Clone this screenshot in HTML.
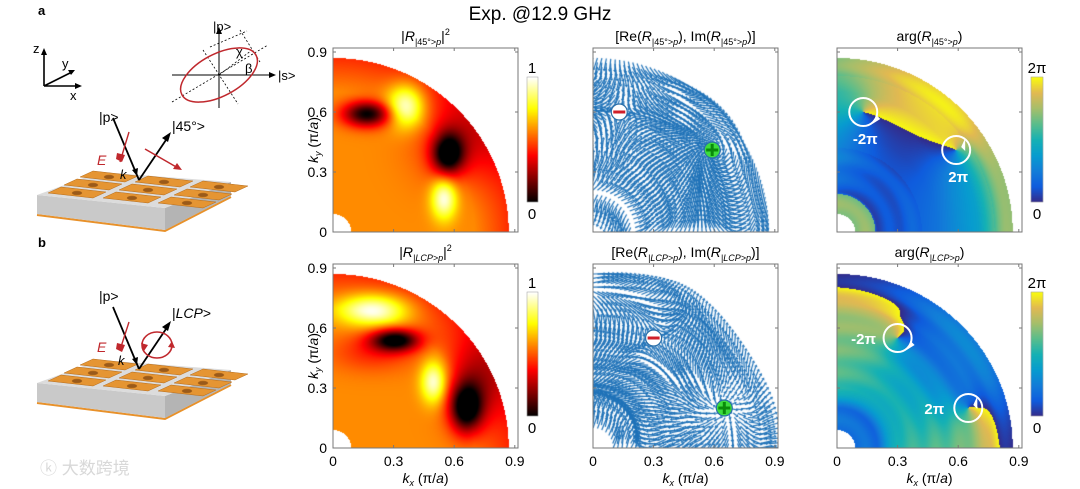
<!DOCTYPE html>
<html><head><meta charset="utf-8">
<style>
html,body{margin:0;padding:0;background:#fff;}
#wrap{position:relative;width:1080px;height:489px;overflow:hidden;font-family:"Liberation Sans","Noto Sans CJK SC",sans-serif;}
canvas,svg{position:absolute;left:0;top:0;}
</style></head>
<body>
<div id="wrap">
<canvas id="cv" width="1080" height="489"></canvas>
<svg id="sv" width="1080" height="489" font-family="Liberation Sans, sans-serif">
  <text x="540" y="20" font-size="19" text-anchor="middle">Exp. @12.9 GHz</text>
  <g>
    <text x="38" y="15" font-size="13" font-weight="bold">a</text>
    <g stroke="#000" stroke-width="1.6" fill="none">
      <path d="M44 86 V52 M44 86 H78 M44 86 L72 72"/>
    </g>
    <path d="M44 48 l-3 7 h6z M82 86 l-7 -3 v6z M75 70 l-7 0 l3 5z" fill="#000"/>
    <text x="33" y="53" font-size="13">z</text><text x="62" y="68" font-size="13">y</text><text x="70" y="100" font-size="13">x</text>
    <g>
      <line x1="172" y1="75" x2="272" y2="75" stroke="#000" stroke-width="1"/>
      <path d="M276 75 l-7 -3 v6z" fill="#000"/>
      <line x1="219" y1="108" x2="219" y2="32" stroke="#000" stroke-width="1"/>
      <path d="M219 27 l-3 7 h6z" fill="#000"/>
      <g stroke="#000" stroke-width="0.8" stroke-dasharray="2,2" fill="none">
        <line x1="172" y1="102" x2="268" y2="45"/><line x1="203" y1="50" x2="238" y2="104"/>
        <line x1="240" y1="30" x2="260" y2="62"/><line x1="210" y1="47" x2="247" y2="31"/>
        <line x1="219" y1="75" x2="252" y2="50"/>
      </g>
      <ellipse cx="219" cy="75" rx="42" ry="21" transform="rotate(-28 219 75)" fill="none" stroke="#c0282d" stroke-width="1.5"/>
      <text x="213" y="31" font-size="13">|p&gt;</text>
      <text x="278" y="80" font-size="13">|s&gt;</text>
      <text x="236" y="56" font-size="13">χ</text><text x="245" y="73" font-size="13">β</text>
    </g>
    <g>
      <path d="M37 215 L165 231 L231 197" stroke="#e8912a" stroke-width="2" fill="none"/>
      <path d="M37 195 L165 208 L165 230 L37 214Z" fill="#c9c9c9"/>
      <path d="M165 208 L231 182 L231 196 L165 230Z" fill="#b4b4b4"/>
      <path d="M37 195 L100 172 L231 182 L165 208Z" fill="#dcdcdc"/>
      <g id="tilesA" fill="#e59533" stroke="#b56b1a" stroke-width="0.5"></g>
    </g>
    <g stroke="#000" stroke-width="1.8">
      <line x1="113" y1="118" x2="139" y2="180"/><line x1="139" y1="180" x2="168" y2="137"/>
    </g>
    <path d="M171 132 l-9 6 l6 4z M137 176 l-5 -6 l6 -2z" fill="#000"/>
    <path d="M145 149 L178 168" stroke="#c0282d" stroke-width="1.5"/><path d="M182 170 l-9 -1 l4 -6z" fill="#c0282d"/>
    <path d="M129 132 L120 162" stroke="#c0282d" stroke-width="1.4"/><path d="M117 153 l8 2 l-3 7 l-6 -3z" fill="#c0282d"/>
    <text x="99" y="122" font-size="14">|p&gt;</text>
    <text x="172" y="131" font-size="14">|45°&gt;</text>
    <text x="97" y="165" font-size="14" font-style="italic" fill="#c0282d">E</text>
    <text x="120" y="179" font-size="13" font-style="italic">k</text>
  </g>
  <g>
    <text x="38" y="247" font-size="13" font-weight="bold">b</text>
    <g transform="translate(0,188)">
      <path d="M37 215 L165 231 L231 197" stroke="#e8912a" stroke-width="2" fill="none"/>
      <path d="M37 195 L165 208 L165 230 L37 214Z" fill="#c9c9c9"/>
      <path d="M165 208 L231 182 L231 196 L165 230Z" fill="#b4b4b4"/>
      <path d="M37 195 L100 172 L231 182 L165 208Z" fill="#dcdcdc"/>
      <g id="tilesB" fill="#e59533" stroke="#b56b1a" stroke-width="0.5"></g>
    </g>
    <g stroke="#000" stroke-width="1.8">
      <line x1="113" y1="307" x2="139" y2="369"/><line x1="139" y1="369" x2="168" y2="326"/>
    </g>
    <path d="M171 321 l-9 6 l6 4z M137 365 l-5 -6 l6 -2z" fill="#000"/>
    <ellipse cx="157" cy="345" rx="15" ry="13" fill="none" stroke="#c0282d" stroke-width="1.6"/>
    <path d="M144 351 l-3 -8 l7 2z M172 341 l3 7 l-7 -1z" fill="#c0282d"/>
    <path d="M129 322 L120 350" stroke="#c0282d" stroke-width="1.4"/><path d="M117 343 l8 2 l-3 7 l-6 -3z" fill="#c0282d"/>
    <text x="99" y="301" font-size="14">|p&gt;</text>
    <text x="172" y="318" font-size="14">|<tspan font-style="italic">LCP</tspan>&gt;</text>
    <text x="97" y="352" font-size="14" font-style="italic" fill="#c0282d">E</text>
    <text x="118" y="365" font-size="13" font-style="italic">k</text>
  </g>
  <text x="40" y="474" font-size="17" fill="#d8d8d8">ⓚ 大数跨境</text>
  <g id="axes"></g>
</svg>
</div>
<script>
// ---- data ----
const tickValues = [0, 0.3, 0.6, 0.9];
const tickLabels = ["0", "0.3", "0.6", "0.9"];
const discRadius = 0.87;
const holeRadius = 0.09;
// intensity blobs: [kx, ky, amplitude, sigmaX, sigmaY]
const blobsTop = [[0.17,0.59,-0.58,0.085,0.045],[0.36,0.63,0.42,0.065,0.075],[0.57,0.39,-0.6,0.055,0.075],[0.55,0.17,0.42,0.045,0.075],[0.62,0.45,-0.18,0.15,0.15]];
const blobsBot = [[0.2,0.69,0.42,0.12,0.055],[0.31,0.54,-0.6,0.085,0.04],[0.2,0.48,-0.15,0.15,0.07],[0.5,0.33,0.42,0.045,0.075],[0.66,0.2,-0.6,0.055,0.085],[0.7,0.32,-0.25,0.11,0.15]];
const heatBase = 0.58;
// phase vortices: [kx, ky, charge]
const vortTop = [[0.13,0.6,-1],[0.59,0.41,1]];
const vortBot = [[0.30,0.55,-1],[0.65,0.2,1]];
const radialR = [0,0.1,0.2,0.3,0.4,0.5,0.6,0.7,0.8,0.9];
// background phase (fraction of 2π) along the kx axis and along the ky axis
const phaseTopX = [0.85,0.85,0.22,0.26,0.3,0.34,0.42,0.48,0.72,0.82];
const phaseTopY = [0.85,0.85,0.28,0.38,0.43,0.48,0.54,0.52,0.6,0.65];
const phaseBotX = [0.35,0.35,0.35,0.7,0.75,0.77,0.77,0.8,1.0,1.03];
const phaseBotY = [0.35,0.35,0.35,0.7,0.75,0.77,0.77,0.8,1.0,1.03];
const colX = [333, 593, 837];
const rowBottom = [232, 448];
const boxW = 185, boxH = 184, SX = 202, SY = 200;

function tiles(id){
  const g=document.getElementById(id);
  for(let i=0;i<3;i++)for(let j=0;j<3;j++){
    const bx=48+i*55+j*16, by=193-j*8+i*5;
    const p=document.createElementNS("http://www.w3.org/2000/svg","path");
    p.setAttribute('d',`M${bx} ${by} l45 5 l13 -6 l-45 -5z`);
    g.appendChild(p);
    const h=document.createElementNS("http://www.w3.org/2000/svg","ellipse");
    h.setAttribute('cx',bx+29);h.setAttribute('cy',by);h.setAttribute('rx',5);h.setAttribute('ry',2);
    h.setAttribute('fill','#9a5a1a');g.appendChild(h);
  }
}
tiles('tilesA');tiles('tilesB');

function heat(kx,ky,blobs){
  let v=heatBase;
  const r=Math.hypot(kx,ky);
  if(r>0.7) v-=0.14*(r-0.7)/0.17;
  for(const b of blobs){v+=b[2]*Math.exp(-((kx-b[0])**2/(2*b[3]**2)+(ky-b[1])**2/(2*b[4]**2)));}
  return Math.max(0,Math.min(1,v));
}
function radial(r,arr,top){
  if(top && r<0.19) return arr[0];
  const i=Math.min(radialR.length-2,Math.floor(r/0.1));
  const t=(r-radialR[i])/0.1;
  return arr[i]+(arr[i+1]-arr[i])*t;
}
function phase(kx,ky,vort,top){
  const r=Math.hypot(kx,ky), w=Math.atan2(ky,kx)/(Math.PI/2);
  const ax=top?phaseTopX:phaseBotX, ay=top?phaseTopY:phaseBotY;
  const ripple=(top && r>0.42 && r<0.78)?0:0.03;
  let p=(1-w)*radial(r,ax,top)+w*radial(r,ay,top)+ripple*Math.sin(r*55);
  const tA=Math.atan2(ky-vort[0][1],kx-vort[0][0]);
  const tB=Math.atan2(ky-vort[1][1],kx-vort[1][0]);
  p+=(vort[1][2]*tB+vort[0][2]*tA)/(2*Math.PI);
  return p-Math.floor(p);
}
function hot(t){return [Math.min(1,t/0.375),Math.max(0,Math.min(1,(t-0.375)/0.375)),Math.max(0,Math.min(1,(t-0.75)/0.25))].map(x=>x*255);}
const par=[[53,42,135],[15,92,221],[18,125,216],[7,156,207],[21,177,180],[89,189,140],[165,190,107],[225,185,82],[249,251,14]];
function parula(t){const s=t*8,i=Math.min(7,Math.floor(s)),f=s-i;return par[i].map((c,k)=>c+(par[i+1][k]-c)*f);}

const cv=document.getElementById('cv'),ctx=cv.getContext('2d');
const img=ctx.createImageData(1080,489);const D=img.data;
function setPx(x,y,c){const o=(y*1080+x)*4;D[o]=c[0];D[o+1]=c[1];D[o+2]=c[2];D[o+3]=255;}
for(let row=0;row<2;row++){
  const yb=rowBottom[row], blobs=row?blobsBot:blobsTop, vort=row?vortBot:vortTop;
  for(let py=yb-boxH;py<yb;py++)for(let dx=0;dx<boxW;dx++){
    const kx=(dx+0.5)/SX, ky=(yb-py-0.5)/SY, r=Math.hypot(kx,ky);
    if(r>discRadius||r<holeRadius) continue;
    setPx(colX[0]+dx,py,hot(heat(kx,ky,blobs)));
    setPx(colX[2]+dx,py,parula(phase(kx,ky,vort,row===0)));
  }
  const cbT=row?292:77, cbB=row?416:202;
  for(let py=cbT;py<cbB;py++){const t=(cbB-py)/(cbB-cbT);
    for(let x=527;x<538;x++)setPx(x,py,hot(t));
    for(let x=1031;x<1043;x++)setPx(x,py,parula(t));}
}
ctx.putImageData(img,0,0);
ctx.strokeStyle='#1f72b8';ctx.fillStyle='#1f72b8';ctx.lineWidth=1.2;
for(let row=0;row<2;row++){
  const yb=rowBottom[row], blobs=row?blobsBot:blobsTop, vort=row?vortBot:vortTop;
  ctx.save();ctx.beginPath();ctx.rect(colX[1],yb-boxH,boxW,boxH);ctx.clip();
  for(let r=0.1;r<0.88;r+=0.022){
    const n=Math.max(4,Math.round(Math.PI/2*r/0.022));
    for(let j=0;j<=n;j++){
      const a=j/n*Math.PI/2, kx=r*Math.cos(a), ky=r*Math.sin(a);
      const ph=phase(kx,ky,vort,row===0)*2*Math.PI, amp=Math.sqrt(heat(kx,ky,blobs));
      const L=4+10*amp, x=colX[1]+kx*SX, y=yb-ky*SY;
      const ux=Math.cos(ph), uy=-Math.sin(ph);
      const x2=x+ux*L, y2=y+uy*L;
      ctx.beginPath();ctx.moveTo(x,y);ctx.lineTo(x2,y2);ctx.stroke();
      ctx.beginPath();ctx.moveTo(x2+ux*2.5,y2+uy*2.5);ctx.lineTo(x2-uy*1.8,y2+ux*1.8);ctx.lineTo(x2+uy*1.8,y2-ux*1.8);ctx.fill();
    }
  }
  ctx.restore();
}

const NS="http://www.w3.org/2000/svg",AX=document.getElementById('axes');
function el(tag,attrs,txt){const e=document.createElementNS(NS,tag);for(const k in attrs)e.setAttribute(k,attrs[k]);if(txt!==undefined)e.innerHTML=txt;AX.appendChild(e);return e;}
const titles=[
 ['|<tspan font-style="italic">R</tspan><tspan font-size="9" dy="4">|45°&gt;<tspan font-style="italic">p</tspan></tspan><tspan dy="-4">|</tspan><tspan font-size="9" dy="-6">2</tspan>',
  '[Re(<tspan font-style="italic">R</tspan><tspan font-size="9" dy="4">|45°&gt;<tspan font-style="italic">p</tspan></tspan><tspan dy="-4">), Im(</tspan><tspan font-style="italic">R</tspan><tspan font-size="9" dy="4">|45°&gt;<tspan font-style="italic">p</tspan></tspan><tspan dy="-4">)]</tspan>',
  'arg(<tspan font-style="italic">R</tspan><tspan font-size="9" dy="4">|45°&gt;<tspan font-style="italic">p</tspan></tspan><tspan dy="-4">)</tspan>'],
 ['|<tspan font-style="italic">R</tspan><tspan font-size="9" dy="4" font-style="italic">|LCP&gt;p</tspan><tspan dy="-4">|</tspan><tspan font-size="9" dy="-6">2</tspan>',
  '[Re(<tspan font-style="italic">R</tspan><tspan font-size="9" dy="4" font-style="italic">|LCP&gt;p</tspan><tspan dy="-4">), Im(</tspan><tspan font-style="italic">R</tspan><tspan font-size="9" dy="4" font-style="italic">|LCP&gt;p</tspan><tspan dy="-4">)]</tspan>',
  'arg(<tspan font-style="italic">R</tspan><tspan font-size="9" dy="4" font-style="italic">|LCP&gt;p</tspan><tspan dy="-4">)</tspan>']];
const panelNames=['intensity','vector-field','phase'];
for(let row=0;row<2;row++){
  const yb=rowBottom[row], yt=yb-boxH;
  for(let c=0;c<3;c++){
    const x0=colX[c];
    const b=el('rect',{x:x0,y:yt,width:boxW,height:boxH,fill:'none',stroke:'#777','stroke-width':1});
    
    
    const t=el('text',{x:x0+boxW/2,y:yt-7,'font-size':14,'text-anchor':'middle'},titles[row][c]);
    
    
    tickValues.forEach((v,i)=>{
      const x=x0+v*SX, y=yb-v*SY;
      el('line',{x1:x,y1:yb,x2:x,y2:yb-3,stroke:'#777'});el('line',{x1:x,y1:yt,x2:x,y2:yt+3,stroke:'#777'});
      el('line',{x1:x0,y1:y,x2:x0+3,y2:y,stroke:'#777'});el('line',{x1:x0+boxW,y1:y,x2:x0+boxW-3,y2:y,stroke:'#777'});
      if(c===0){const l=el('text',{x:x0-6,y:y+5,'font-size':14,'text-anchor':'end'},tickLabels[i]);
        }
      if(row===1){const l=el('text',{x:x,y:yb+18,'font-size':14,'text-anchor':'middle'},tickLabels[i]);
        }
    });
    if(row===1){const l=el('text',{x:x0+boxW/2,y:yb+35,'font-size':14,'text-anchor':'middle'},'<tspan font-style="italic">k</tspan><tspan font-size="9" dy="3" font-style="italic">x</tspan><tspan dy="-3"> (π/</tspan><tspan font-style="italic">a</tspan>)');
      }
  }
  const yl=el('text',{x:0,y:0,'font-size':14,'text-anchor':'middle',transform:`translate(318,${yb-boxH/2}) rotate(-90)`},'<tspan font-style="italic">k</tspan><tspan font-size="9" dy="3" font-style="italic">y</tspan><tspan dy="-3"> (π/</tspan><tspan font-style="italic">a</tspan>)');
  
  const cbT=row?292:77, cbB=row?416:202;
  let e;
  e=el('rect',{x:527,y:cbT,width:11,height:cbB-cbT,fill:'none',stroke:'#999','stroke-width':0.5});
  
  el('text',{x:532,y:cbT-4,'font-size':15,'text-anchor':'middle'},'1');
  el('text',{x:532,y:cbB+17,'font-size':15,'text-anchor':'middle'},'0');
  e=el('rect',{x:1031,y:cbT,width:12,height:cbB-cbT,fill:'none',stroke:'#999','stroke-width':0.5});
  
  el('text',{x:1037,y:cbT-4,'font-size':15,'text-anchor':'middle'},'2π');
  el('text',{x:1037,y:cbB+17,'font-size':15,'text-anchor':'middle'},'0');
  const vort=row?vortBot:vortTop;
  vort.forEach(v=>{
    const x=colX[1]+v[0]*SX,y=yb-v[1]*SY;
    const g=el('circle',{cx:x,cy:y,r:8,fill:v[2]<0?'#fff':'#3ddc3d',stroke:'#2b6fa8','stroke-width':1.2});
    
    
    el('rect',{x:x-6,y:y-1.5,width:12,height:3,fill:v[2]<0?'#d0202a':'#0a8a0a'});
    if(v[2]>0)el('rect',{x:x-1.5,y:y-6,width:3,height:12,fill:'#0a8a0a'});
    const px=colX[2]+v[0]*SX;
    const cc=el('circle',{cx:px,cy:y,r:14,fill:'none',stroke:'#fff','stroke-width':2});
    
    
    el('path',{d:`M${px+9} ${y+(v[2]<0?12:-12)} l${v[2]<0?4:-4} ${v[2]<0?-9:9} l4 4z`,fill:'#fff'});
    const lx=row?px-34:px+2, ly=row?y+6:y+32;
    el('text',{x:lx,y:ly,'font-size':15,'font-weight':'bold',fill:'#fff','text-anchor':'middle'},v[2]<0?'-2π':'2π');
  });
}
</script>
</body></html>
